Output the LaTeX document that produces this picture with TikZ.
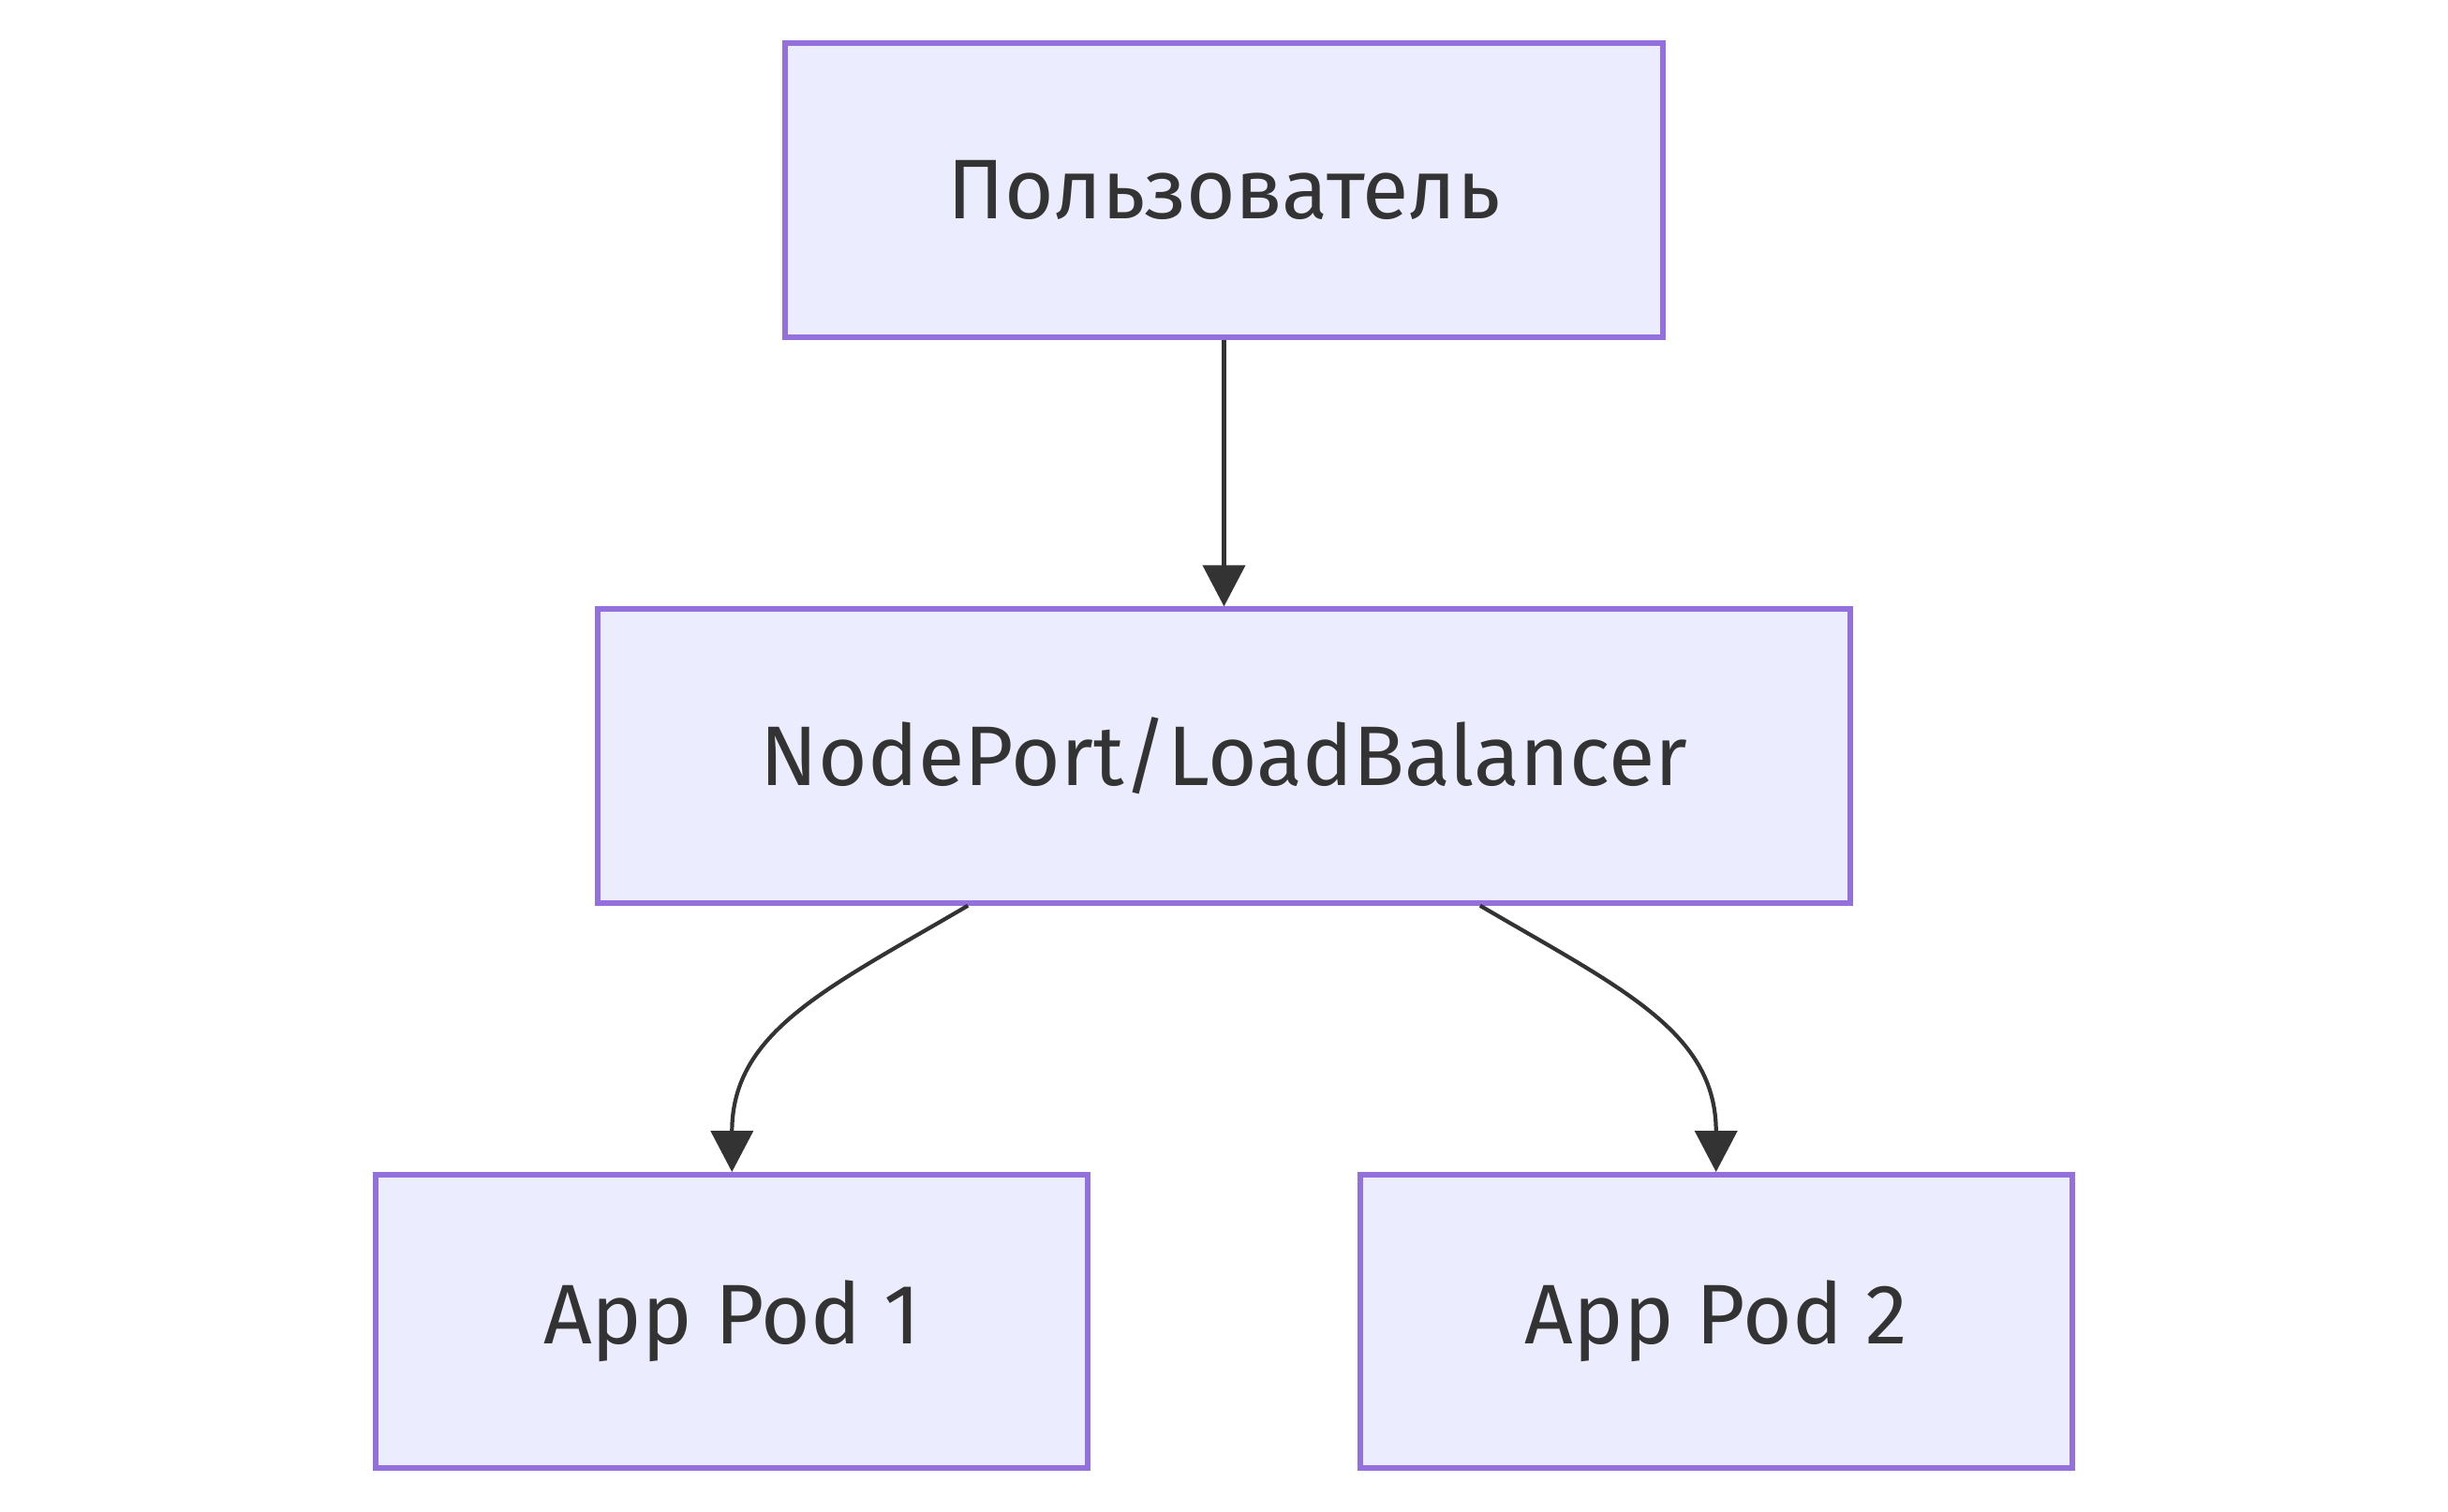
\documentclass[tikz,border=0pt]{standalone}
\usepackage{fontspec}
\setmainfont{Fira Sans}
\usetikzlibrary{arrows.meta}
\definecolor{fondboite}{HTML}{ECECFF}
\definecolor{bordboite}{HTML}{9370DB}
\definecolor{trait}{HTML}{333333}
\begin{document}
\begin{tikzpicture}[xscale=1,yscale=1]
		\tikzstyle{fleche}=[-{Triangle[length=4.4mm,width=4.5mm]},trait,line width=1.2pt]
		\tikzstyle{boite}=[draw=bordboite,fill=fondboite,line width=1.7pt,inner sep=0pt,minimum height=3.134cm,text=trait,font=\fontsize{25.7}{30}\selectfont]
		\def\NiveauA{-2.03}
		\def\NiveauB{-8.07}
		\def\NiveauC{-14.107}
		\def\Milieu{13.065}
		\def\EcartDepart{2.733}
		\def\EcartFeuilles{5.252}
		\useasboundingbox (0,0) rectangle (26.13,-16.14);
		\node[boite,minimum width=9.364cm] (User) at ({\Milieu},{\NiveauA}) {Пользователь};
		\node[boite,minimum width=13.376cm] (LB) at ({\Milieu},{\NiveauB}) {NodePort/LoadBalancer};
		\node[boite,minimum width=7.6cm] (PodA) at ({\Milieu-\EcartFeuilles},{\NiveauC}) {App Pod 1};
		\node[boite,minimum width=7.6cm] (PodB) at ({\Milieu+\EcartFeuilles},{\NiveauC}) {App Pod 2};
		\draw[fleche] (User.south)--(LB.north);
		\draw[fleche] ([xshift=-\EcartDepart cm]LB.south) .. controls +(-1.5,-0.88) and +(0,1.5) .. (PodA.north);
		\draw[fleche] ([xshift=\EcartDepart cm]LB.south) .. controls +(1.5,-0.88) and +(0,1.5) .. (PodB.north);
	\end{tikzpicture}
\end{document}
